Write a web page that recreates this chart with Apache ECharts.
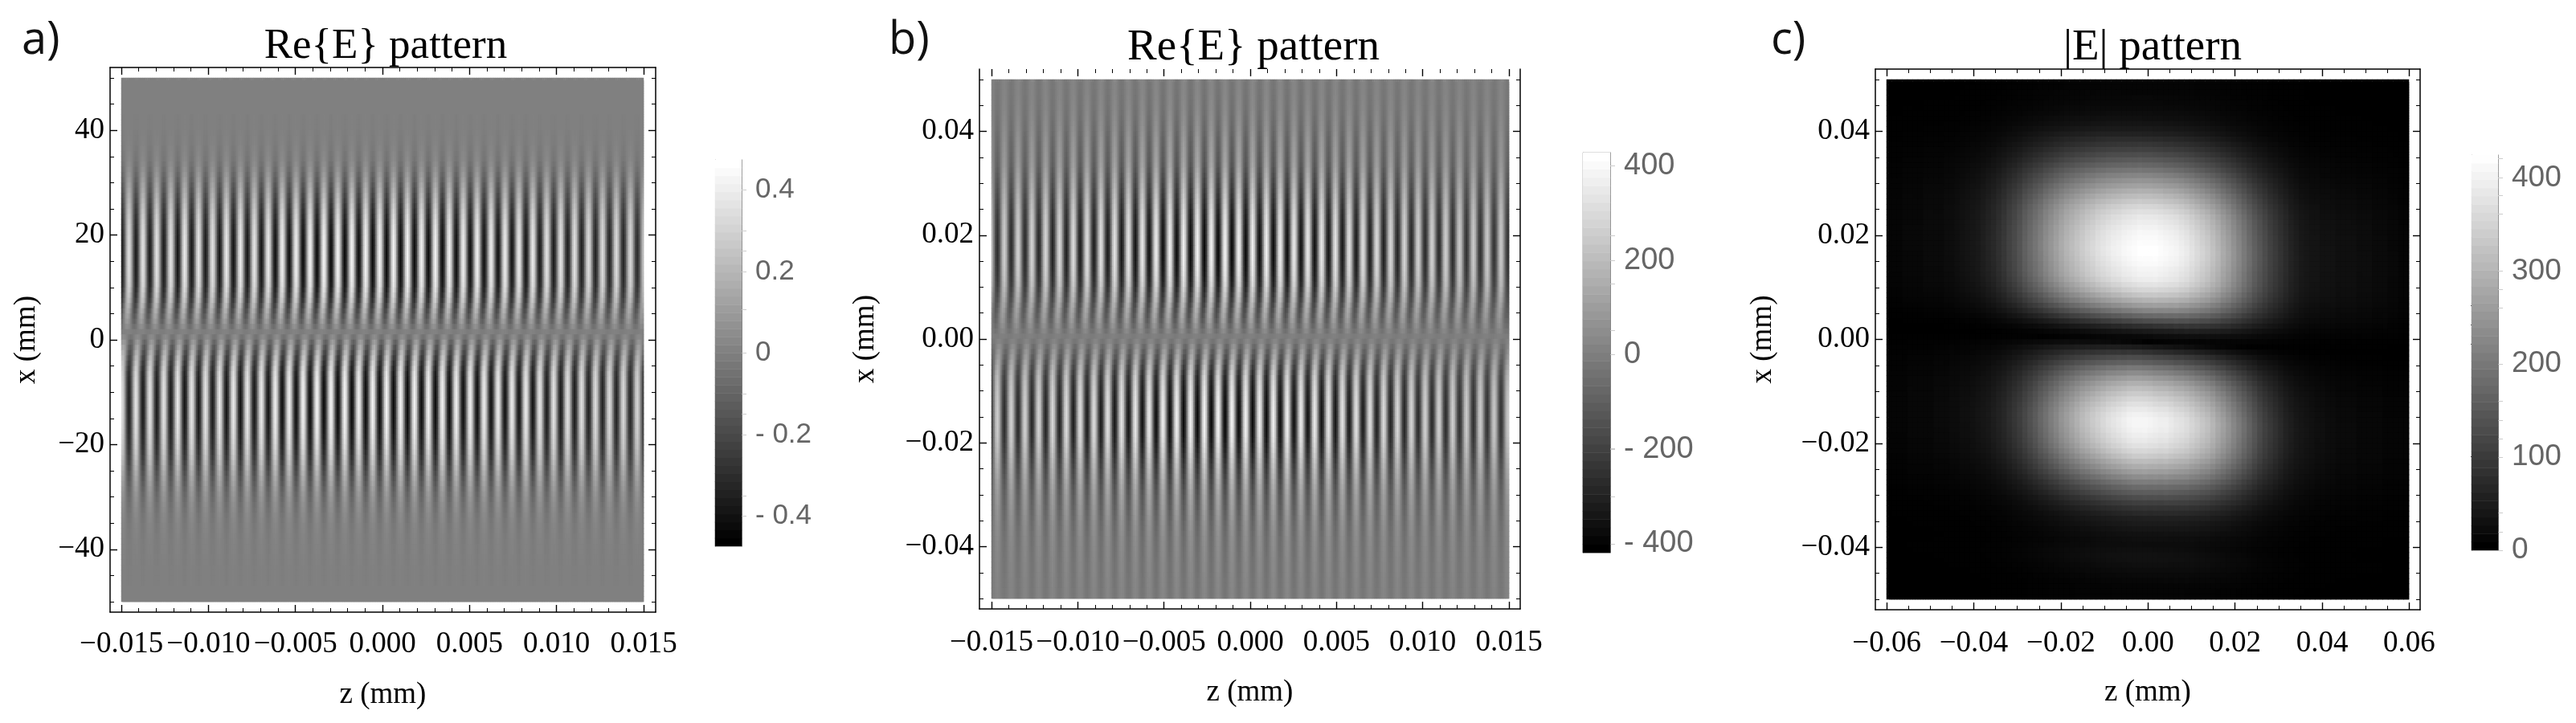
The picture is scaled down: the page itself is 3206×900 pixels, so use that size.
<!DOCTYPE html>
<html>
<head>
<meta charset="utf-8">
<script src="https://cdn.jsdelivr.net/npm/echarts@6/dist/echarts.min.js"></script>
<style>
html, body { margin: 0; padding: 0; background: #fff; }
#chart { width: 3206px; height: 900px; }
</style>
</head>
<body>
<div id="chart"></div>
<script>
// The fields are too dense to type cell by cell. Each one is rebuilt from cross-sections
// a z cut through a lobe times an x cut (signed across the node).

// panel a: Re{E} along z through the upper lobe, 8 samples per fringe (x 100)
const cutZA = [
  -34,-24,0,24,34,24,0,-24,
  -36,-25,0,25,36,25,0,-25,
  -36,-25,0,25,36,25,0,-25,
  -36,-25,0,25,36,25,0,-25,
  -38,-27,0,27,38,27,0,-27,
  -37,-26,0,26,37,26,0,-26,
  -36,-25,0,25,36,25,0,-25,
  -38,-27,0,27,38,27,0,-27,
  -39,-27,0,27,39,27,0,-27,
  -37,-26,0,26,37,26,0,-26,
  -38,-27,0,27,38,27,0,-27,
  -40,-28,0,28,40,28,0,-28,
  -40,-28,0,28,40,28,0,-28,
  -41,-29,0,29,41,29,0,-29,
  -42,-29,0,29,42,29,0,-29,
  -42,-29,0,29,42,29,0,-29,
  -42,-29,0,29,42,29,0,-29,
  -41,-29,0,29,41,29,0,-29,
  -42,-29,0,29,42,29,0,-29,
  -42,-29,0,29,42,29,0,-29,
  -42,-29,0,29,42,29,0,-29,
  -41,-29,0,29,41,29,0,-29,
  -41,-29,0,29,41,29,0,-29,
  -41,-29,0,29,41,29,0,-29,
  -40,-28,0,28,40,28,0,-28,
  -40,-28,0,28,40,28,0,-28,
  -39,-27,0,27,39,27,0,-27,
  -39,-27,0,27,39,27,0,-27,
  -38,-27,0,27,38,27,0,-27,
  -38,-27,0,27,38,27,0,-27,
  -36,-25,0,25,36,25,0,-25,
  -36,-25,0,25,36,25,0,-25,
  -35,-25,0,25,35,25,0,-25,
  -34,-24,0,24,34,24,0,-24,
  -33,-23,0,23,33,23,0,-23,
  -33,-23,0,23,33,23,0,-23,
  -32,-22,0,22,32,22,0,-22,
  -30,-21,0,21
];
// panel a: relative amplitude down the rows, top to bottom, sign flips at the node
const cutXA = [
  0,0,0,0,0,0,0,1,1,1,2,3,4,6,8,10,14,20,26,33,
  40,47,54,61,68,74,80,85,89,93,96,98,99,100,100,100,99,98,96,93,
  89,84,76,66,54,42,30,17,3,-12,-28,-44,-58,-70,-79,-85,-90,-94,-97,-98,
  -99,-100,-100,-100,-99,-98,-96,-94,-91,-87,-83,-77,-71,-64,-56,-49,-42,-36,-30,-25,
  -21,-17,-14,-11,-9,-7,-6,-5,-4,-3,-3,-2,-2,-1,-1,-1,-1,0,0,0
];
// panel a: sideways bend of the fringes next to the node, in samples
const bendA = [
  0,0,0,0,0,0,0,0,0,0,0,0,0,0,0,0,0,0,0,0,
  0,0,0,0,0,0,0,0,0,0,0,0,0,0,0,0,0,0,0,0,
  0.1,0.2,0.3,0.5,0.7,0.9,1,1,1,-1,-1,-0.8,-0.6,-0.4,-0.25,-0.1,0,0,0,0,
  0,0,0,0,0,0,0,0,0,0,0,0,0,0,0,0,0,0,0,0,
  0,0,0,0,0,0,0,0,0,0,0,0,0,0,0,0,0,0,0,0
];

// panel b: same readings
const cutZB = [
  175,0,-182,-260,-182,0,182,
  260,182,0,-189,-270,-189,0,189,
  270,189,0,-189,-270,-189,0,189,
  280,196,0,-196,-280,-196,0,196,
  290,203,0,-203,-290,-203,0,203,
  300,210,0,-210,-300,-210,0,210,
  310,217,0,-217,-310,-217,0,217,
  310,217,0,-217,-310,-217,0,217,
  320,224,0,-224,-320,-224,0,224,
  330,231,0,-231,-330,-231,0,231,
  340,238,0,-238,-340,-238,0,238,
  350,245,0,-245,-350,-245,0,245,
  360,252,0,-252,-360,-252,0,252,
  370,259,0,-259,-370,-259,0,259,
  375,262,0,-262,-375,-262,0,262,
  380,266,0,-266,-380,-266,0,266,
  380,266,0,-266,-380,-266,0,266,
  380,266,0,-266,-380,-266,0,266,
  375,262,0,-262,-375,-262,0,262,
  370,259,0,-259,-370,-259,0,259,
  370,259,0,-259,-370,-259,0,259,
  360,252,0,-252,-360,-252,0,252,
  350,245,0,-245,-350,-245,0,245,
  350,245,0,-245,-350,-245,0,245,
  340,238,0,-238,-340,-238,0,238,
  330,231,0,-231,-330,-231,0,231,
  320,224,0,-224,-320,-224,0,224,
  310,217,0,-217,-310,-217,0,217,
  300,210,0,-210,-300,-210,0,210,
  290,203,0,-203,-290,-203,0,203,
  280,196,0,-196,-280,-196,0,196,
  270,189,0,-189,-270,-189,0,189,
  270,189,0,-189,-270,-189,0,189,
  260,182,0,-182,-260,-182,0,182,
  250,175,0,-175,-250,-175,0,175,
  250,175,0,-175,-250,-175,0,175,
  240,168,0,-168,-240,-168,0,168,
  240,168,0,-168,-240
];
const cutXB = [
  8,8,9,10,11,12,14,16,18,20,23,26,28,30,32,34,37,42,47,52,
  57,62,67,72,77,82,86,89,92,95,97,99,100,100,100,98,96,93,89,84,
  78,72,65,57,49,41,32,23,13,3,-9,-21,-34,-45,-56,-65,-72,-78,-84,-88,
  -92,-95,-97,-99,-100,-100,-100,-99,-97,-93,-88,-83,-77,-71,-65,-60,-55,-50,-45,-41,
  -37,-34,-31,-28,-25,-22,-20,-18,-16,-15,-14,-13,-12,-11,-11,-10,-9,-9,-8,-8
];
const bendB = [
  0,0,0,0,0,0,0,0,0,0,0,0,0,0,0,0,0,0,0,0,
  0,0,0,0,0,0,0,0,0,0,0,0,0,0,0,0,0,0,0,0,
  0.1,0.2,0.3,0.5,0.7,0.9,1,1,1,1,-1,-1,-0.8,-0.6,-0.4,-0.25,-0.1,0,0,0,
  0,0,0,0,0,0,0,0,0,0,0,0,0,0,0,0,0,0,0,0,
  0,0,0,0,0,0,0,0,0,0,0,0,0,0,0,0,0,0,0,0
];

// panel c: |E| lobes, % of each lobe's peak
const peakUpC = 425;
const peakLowC = 410;
const cutZUpC = [
  2,2,2,3,3,3,3,4,4,4, 4,5,5,6,7,8,9,10,12,14,
  16,19,22,26,29,33,38,42,46,50, 55,59,63,67,71,74,77,80,83,85,
  88,90,92,94,95,97,98,99,100,100, 100,100,99,98,97,96,94,92,89,86,
  83,80,76,72,67,63,58,53,48,43, 38,34,30,26,23,20,17,14,12,10,
  9,8,8,7,7,7,6,6,6,6, 5,5,5,4,4,4,3,3,2,2
];
const cutZLowC = [
  2,2,2,2,3,3,3,3,3,4, 4,4,5,5,6,6,7,8,9,10,
  12,14,16,19,22,25,29,33,37,42, 46,51,55,60,64,68,72,76,79,82,
  85,88,91,93,95,97,99,100,100,100, 99,98,97,97,95,93,92,90,87,84,
  81,78,74,69,65,60,55,50,45,40, 35,30,26,23,20,17,14,12,10,9,
  8,7,6,6,5,5,4,4,4,4, 3,3,3,3,3,2,2,2,2,2
];
const cutXC = [
  2,2,2,3,3,4,5,6,8,10, 13,17,21,25,30,35,40,46,52,58,
  63,69,74,79,84,88,91,93,95,97, 98,99,100,100,99,98,96,95,93,89,
  84,78,70,62,52,41,30,19,10,4, 1,10,20,30,38,48,56,64,71,77,
  82,87,91,95,98,100,100,99,97,95, 92,88,83,77,71,65,58,51,44,38,
  32,26,21,17,13,11,9,7,6,5, 6,7,7,6,5,4,3,2,2,2
];
// offset in rows of the dark line in each column, it runs slightly downhill
const nodeShiftC = [
  -2.5,-2.4,-2.4,-2.3,-2.3,-2.2,-2.2,-2.1,-2.1,-2, -2,-1.9,-1.9,-1.8,-1.8,-1.7,-1.7,-1.6,-1.6,-1.5,
  -1.5,-1.4,-1.4,-1.3,-1.3,-1.2,-1.2,-1.1,-1.1,-1, -1,-0.9,-0.9,-0.8,-0.8,-0.7,-0.7,-0.6,-0.6,-0.5,
  -0.5,-0.4,-0.4,-0.3,-0.3,-0.2,-0.2,-0.1,-0.1,0, 0,0.1,0.1,0.2,0.2,0.3,0.3,0.4,0.4,0.5,
  0.5,0.6,0.6,0.7,0.7,0.8,0.8,0.9,0.9,1, 1,1.1,1.1,1.2,1.2,1.3,1.3,1.4,1.4,1.5,
  1.5,1.6,1.6,1.7,1.7,1.8,1.8,1.9,1.9,2, 2,2.1,2.1,2.2,2.2,2.3,2.3,2.4,2.4,2.5
];

// colour bar levels
const barA = [-0.47,-0.45,-0.43,-0.41,-0.39,-0.37,-0.35,-0.33,-0.31,-0.29,-0.27,-0.25,-0.23,-0.21,-0.19,-0.17,-0.15,-0.13,-0.11,-0.09,-0.07,-0.05,-0.03,-0.01,0.01,0.03,0.05,0.07,0.09,0.11,0.13,0.15,0.17,0.19,0.21,0.23,0.25,0.27,0.29,0.31,0.33,0.35,0.37,0.39,0.41,0.43,0.45,0.47];
const barB = [-418,-400,-382,-364,-346,-328,-310,-292,-274,-256,-238,-220,-202,-184,-166,-148,-130,-112,-94,-76,-58,-40,-22,-4,14,32,50,68,86,104,122,140,158,176,194,212,230,248,266,284,302,320,338,356,374,392,410,428];
const barC = [0,9,18,27,36,45,54,63,72,81,90,99,108,117,126,135,144,153,162,171,180,189,198,207,216,225,234,243,252,261,270,279,288,297,306,315,324,333,342,351,360,369,378,387,396,405,414,423];

// ticks and labels
const zMajor = [-0.015,-0.01,-0.005,0,0.005,0.01,0.015];
const zMinorFine = [-0.014,-0.013,-0.012,-0.011,-0.009,-0.008,-0.007,-0.006,-0.004,-0.003,-0.002,-0.001,0.001,0.002,0.003,0.004,0.006,0.007,0.008,0.009,0.011,0.012,0.013,0.014];
const zMajorC = [-0.06,-0.04,-0.02,0,0.02,0.04,0.06];
const zMinorC = [-0.055,-0.05,-0.045,-0.035,-0.03,-0.025,-0.015,-0.01,-0.005,0.005,0.01,0.015,0.025,0.03,0.035,0.045,0.05,0.055];
const xMajorA = [-40,-20,0,20,40];
const xMinorA = [-50,-45,-35,-30,-25,-15,-10,-5,5,10,15,25,30,35,45,50];
const xMajor = [-0.04,-0.02,0,0.02,0.04];
const xMinor = [-0.05,-0.045,-0.035,-0.03,-0.025,-0.015,-0.01,-0.005,0.005,0.01,0.015,0.025,0.03,0.035,0.045,0.05];
const barTicksA = [-0.4,-0.35,-0.15,-0.1,0,0.106,0.25,0.3,0.4];
const barLabelsA = [-0.4,-0.2,0,0.2,0.4];
const barTicksB = [-300,-199,51,151,252];
const barLabelsB = [-400,-200,0,200,400];
const barTicksC = [0,20,40,120,140,160,260,280,361,381,421];
const barTicksLeftC = [101,222,242,263];
const barLabelsC = [0,100,200,300,400];

const serif = 'Liberation Serif';
const sans = 'Liberation Sans';

const grids = [], xAxes = [], yAxes = [], series = [], visualMaps = [], titles = [];

function rect(r) {
  return { left: r[0], top: r[1], width: r[2] - r[0], height: r[3] - r[1], containLabel: false };
}

function indexes(n) {
  return Array.from({ length: n }, (_, i) => i);
}

// hidden category grid that holds a heatmap
function addCells(box, nCols, nRows, cells, inverse, backing) {
  const g = grids.length;
  const r = rect(box);
  if (backing) { r.show = true; r.backgroundColor = backing; r.borderWidth = 0; }
  grids.push(r);
  xAxes.push({ type: 'category', gridIndex: g, show: false, data: indexes(nCols) });
  yAxes.push({ type: 'category', gridIndex: g, show: false, inverse: inverse, data: indexes(nRows) });
  series.push({
    type: 'heatmap', xAxisIndex: xAxes.length - 1, yAxisIndex: yAxes.length - 1,
    data: cells, progressive: 0, animation: false, emphasis: { disabled: true }
  });
  return series.length - 1;
}

// the canvas leaves hairline seams between cells, so the same cells are drawn once more
// underneath on a box short by half a cell: the seams of the top layer fall on solid cells
function addImage(box, nCols, nRows, cells, backing) {
  const halfW = (box[2] - box[0]) / nCols / 2;
  const halfH = (box[3] - box[1]) / nRows / 2;
  const under = addCells([box[0] + halfW, box[1] + halfH, box[2], box[3]], nCols, nRows, cells, true, backing);
  const top = addCells(box, nCols, nRows, cells, true);
  return [under, top];
}

// frame axes drawn over the image, ticks point inward on all four sides
function addFrame(box, zRange, xRange, ticks, labels, noTopLine) {
  const line = (show) => ({ show: show, onZero: false, lineStyle: { color: '#000', width: 1.5 } });
  [['major', 9, 1.4], ['minor', 5, 1]].forEach(([kind, len, w]) => {
    const major = kind === 'major';
    const g = grids.length;
    grids.push(rect(box));
    const tick = (vals) => ({ show: true, inside: true, length: len, customValues: vals, lineStyle: { color: '#000', width: w } });
    const common = { type: 'value', gridIndex: g, splitLine: { show: false } };
    const zv = major ? ticks.zMajor : ticks.zMinor;
    const xv = major ? ticks.xMajor : ticks.xMinor;
    xAxes.push(Object.assign({}, common, {
      position: 'bottom', min: zRange[0], max: zRange[1],
      axisLine: line(major), axisTick: tick(zv),
      axisLabel: major ? { show: true, customValues: zv, margin: labels.zMargin, formatter: labels.z, color: '#000', fontFamily: serif, fontSize: 37 } : { show: false },
      name: major ? 'z (mm)' : '', nameLocation: 'middle', nameGap: labels.zNameGap,
      nameTextStyle: { color: '#000', fontFamily: serif, fontSize: 37 }
    }));
    xAxes.push(Object.assign({}, common, {
      position: 'top', min: zRange[0], max: zRange[1],
      axisLine: line(major && !noTopLine), axisTick: tick(zv), axisLabel: { show: false }
    }));
    yAxes.push(Object.assign({}, common, {
      position: 'left', min: xRange[0], max: xRange[1],
      axisLine: line(major), axisTick: tick(xv),
      axisLabel: major ? { show: true, customValues: xv, margin: 7, formatter: labels.x, color: '#000', fontFamily: serif, fontSize: 37 } : { show: false },
      name: major ? 'x (mm)' : '', nameLocation: 'middle', nameGap: labels.xNameGap,
      nameTextStyle: { color: '#000', fontFamily: serif, fontSize: 37 }
    }));
    yAxes.push(Object.assign({}, common, {
      position: 'right', min: xRange[0], max: xRange[1],
      axisLine: line(major), axisTick: tick(xv), axisLabel: { show: false }
    }));
  });
}

// colour bar: a one column heatmap with a value axis on its own overlaid grid
function addBar(box, levels, range, ticks, labels, fontSize, leftTicks, border) {
  const cells = levels.map((v, i) => [0, i, v]);
  const idx = addCells(box, 1, levels.length, cells, false);
  const g = grids.length;
  const r = rect(box);
  if (border) { r.show = true; r.borderColor = '#aaa'; r.borderWidth = 1; r.backgroundColor = 'transparent'; }
  grids.push(r);
  const fmt = (v) => v < 0 ? '- ' + Math.abs(v) : String(v);
  xAxes.push({ type: 'value', gridIndex: g, show: false, min: 0, max: 1 });
  yAxes.push({
    type: 'value', gridIndex: g, position: 'right', min: range[0], max: range[1],
    splitLine: { show: false },
    axisLine: { show: true, onZero: false, lineStyle: { color: '#808080', width: 1 } },
    axisTick: { show: true, length: 6, customValues: ticks.concat(labels), lineStyle: { color: '#ccc', width: 1 } },
    axisLabel: { show: true, customValues: labels, margin: 17, formatter: fmt, color: '#666', fontFamily: sans, fontSize: fontSize }
  });
  yAxes.push({
    type: 'value', gridIndex: g, position: 'left', min: range[0], max: range[1],
    splitLine: { show: false },
    axisLine: { show: true, onZero: false, lineStyle: { color: '#999', width: 1 } },
    axisTick: { show: leftTicks.length > 0, length: 1, customValues: leftTicks, lineStyle: { color: '#333', width: 1 } },
    axisLabel: { show: false }
  });
  return idx;
}

// read a cut at a fractional position, used only to follow the slight tilt and bend
function lookup(cut, pos) {
  const p = Math.min(cut.length - 1, Math.max(0, pos));
  const i = Math.floor(p);
  const j = Math.min(cut.length - 1, i + 1);
  return cut[i] + (cut[j] - cut[i]) * (p - i);
}

function fringeCells(cutZ, cutX, bend, unit) {
  const cells = [];
  cutX.forEach((amp, row) => {
    cutZ.forEach((_, col) => {
      cells.push([col, row, lookup(cutZ, col + bend[row]) * unit * amp / 100]);
    });
  });
  return cells;
}

function lobeCells() {
  const cells = [];
  cutXC.forEach((_, row) => {
    cutZUpC.forEach((_, col) => {
      const r = row - nodeShiftC[col];
      const upper = r < 50;
      const peak = upper ? peakUpC : peakLowC;
      const cutZ = upper ? cutZUpC : cutZLowC;
      cells.push([col, row, peak * cutZ[col] / 100 * lookup(cutXC, r) / 100]);
    });
  });
  return cells;
}

function minusLabel(digits) {
  return (v) => (v < 0 ? '\u2212' : '') + Math.abs(v).toFixed(digits);
}

function gray(min, max, seriesIdx) {
  visualMaps.push({
    type: 'continuous', show: false, min: min, max: max, dimension: 2,
    seriesIndex: seriesIdx, inRange: { color: ['#000000', '#ffffff'] }
  });
}

function heading(text, cx, top, size) {
  titles.push({ text: text, left: cx, top: top, textAlign: 'center',
    textStyle: { fontFamily: serif, fontWeight: 'normal', fontSize: size, color: '#000' } });
}

function letter(text, left, top) {
  titles.push({ text: text, left: left, top: top,
    textStyle: { fontFamily: 'Open Sans', fontWeight: 'normal', fontSize: 56, color: '#111' } });
}

// panel a
let layers = addImage([151, 97, 801, 749], cutZA.length, cutXA.length, fringeCells(cutZA, cutXA, bendA, 0.01), '#808080');
addFrame([137, 84, 816, 762], [-0.01565, 0.01569], [-52, 52],
  { zMajor: zMajor, zMinor: zMinorFine, xMajor: xMajorA, xMinor: xMinorA },
  { z: minusLabel(3), x: minusLabel(0), zMargin: 22, zNameGap: 85, xNameGap: 85 }, false);
let barIdx = addBar([890, 199, 923, 680], barA, [-0.474, 0.474], barTicksA, barLabelsA, 35, [], false);
gray(-0.47, 0.47, layers.concat(barIdx));

// panel b
layers = addImage([1234, 99, 1878, 745], cutZB.length, cutXB.length, fringeCells(cutZB, cutXB, bendB, 1), '#808080');
addFrame([1219, 86, 1892, 758], [-0.0157, 0.01565], [-0.052, 0.052],
  { zMajor: zMajor, zMinor: zMinorFine, xMajor: xMajor, xMinor: xMinor },
  { z: minusLabel(3), x: minusLabel(2), zMargin: 24, zNameGap: 86, xNameGap: 123 }, true);
barIdx = addBar([1970, 190, 2004, 688], barB, [-419, 428], barTicksB, barLabelsB, 38, [], true);
gray(-418, 428, layers.concat(barIdx));

// panel c
layers = addImage([2348, 99, 2998, 746], cutZUpC.length, cutXC.length, lobeCells(), '#000');
addFrame([2334, 86, 3012, 759], [-0.0626, 0.0625], [-0.052, 0.052],
  { zMajor: zMajorC, zMinor: zMinorC, xMajor: xMajor, xMinor: xMinor },
  { z: minusLabel(2), x: minusLabel(2), zMargin: 24, zNameGap: 85, xNameGap: 121 }, false);
barIdx = addBar([3076, 193, 3109, 685], barC, [0, 424.6], barTicksC, barLabelsC, 37, barTicksLeftC, false);
gray(0, 425, layers.concat(barIdx));

heading('Re{E} pattern', 475, 27, 53);
heading('Re{E} pattern', 1555, 27, 55);
heading('|E| pattern', 2674, 27, 55);
letter('a)', 22, 18);
letter('b)', 1101, 18);
letter('c)', 2199, 18);

const chart = echarts.init(document.getElementById('chart'), null, { renderer: 'canvas' });
chart.setOption({
  backgroundColor: '#fff',
  animation: false,
  title: titles,
  grid: grids,
  xAxis: xAxes,
  yAxis: yAxes,
  visualMap: visualMaps,
  series: series
});
</script>
</body>
</html>
